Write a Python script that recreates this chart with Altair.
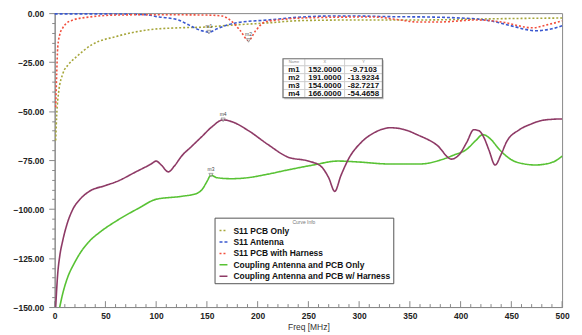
import altair as alt
import pandas as pd

# ---------------- data ----------------
series_names = ["S11 PCB Only", "S11 Antenna", "S11 PCB with Harness",
                "Coupling Antenna and PCB Only", "Coupling Antenna and PCB w/ Harness"]
series_colors = ["#a6a63a", "#3a58d0", "#f2503e", "#58c234", "#8e3a66"]

pcb_x = [1, 2, 4, 8, 14, 21, 37, 60, 93, 122, 145, 178, 210, 243, 300, 360, 420, 460, 500]
pcb_y = [-65, -52, -40, -31, -26, -22.5, -16, -12, -8.5, -7.5, -7.2, -6, -5, -3.8, -3.5, -3.5, -3, -2.7, -2.5]

ant_x = [0, 50, 90, 103, 112, 122, 132, 145, 152, 160, 178, 210, 243, 270, 300, 330, 370, 400, 416, 430, 450, 474, 490, 500]
ant_y = [-0.4, -0.4, -0.8, -2, -2.5, -3.5, -6, -9, -9.71, -8, -5, -3.5, -2, -1.5, -1.5, -1.8, -2, -2.5, -3, -4, -6.5, -9, -8, -6.5]

har_x = [1, 2, 3, 5, 8, 12, 18, 34, 60, 100, 150, 165, 175, 183, 191, 198, 207, 220, 243, 300, 315, 340, 357, 380, 416, 440, 471, 485, 500]
har_y = [-48, -31, -17.5, -11, -7.5, -5, -3.5, -2, -1, -0.8, -1, -1.5, -4.5, -9, -13.92, -9, -4.5, -3.5, -2.5, -2, -2, -3.5, -4.5, -4.5, -3.5, -4.5, -7.5, -6, -4]

cpl_x = [5, 8, 12, 20, 27, 35, 44, 61, 83, 100, 125, 140, 146, 150, 154, 160, 174, 190, 207, 230, 255, 279, 300, 330, 360, 380, 393, 406, 415, 422, 430, 438, 455, 474, 491, 500]
cpl_y = [-150, -143, -136, -127, -121, -116, -112, -106, -99.5, -95, -93.5, -92, -89.5, -86, -82.72, -84, -84.5, -84, -82.5, -80, -77.5, -75.5, -76, -77, -77, -75, -72.5, -69.5, -65, -62, -64.5, -69.5, -76, -77.5, -76, -73]

har_cpl_x = [1, 3, 5, 8, 12, 18, 25, 34, 50, 61, 80, 95, 100, 105, 112, 118, 125, 135, 145, 155, 166, 175, 191, 210, 230, 250, 262, 270, 276, 282, 290, 302, 315, 331, 345, 357, 377, 391, 399, 406, 413, 418, 423, 428, 434, 440, 445, 458, 470, 478, 490, 500]
har_cpl_y = [-150, -133, -124, -116, -108, -100, -95, -91, -88, -86, -81, -77, -75.5, -77.5, -81, -78, -73, -68, -63, -58, -54.47, -55.5, -60, -67, -73.5, -75.5, -78, -84, -91, -83, -74, -66, -61, -58.5, -59.5, -62, -67.5, -74.5, -72, -66, -59.5, -60, -63.5, -70, -77.5, -72, -66, -59.5, -56.5, -55, -54.2, -54]

marker_names = ["m1", "m2", "m3", "m4"]
marker_x = [152.0, 191.0, 154.0, 166.0]
marker_y = [-9.7103, -13.9234, -82.7217, -54.4658]
marker_x_txt = ["152.0000", "191.0000", "154.0000", "166.0000"]
marker_y_txt = ["-9.7103", "-13.9234", "-82.7217", "-54.4658"]

# table frame (data units)
table_cols = [225, 246.6, 285.7, 323]
table_rows = [-23.3, -26.9, -30.9, -35.0, -39.0, -43.1]

x_ticks = list(range(0, 501, 10))

# ---------------- build tables ----------------
rows = []
for name, xs, ys in [(series_names[0], pcb_x, pcb_y), (series_names[1], ant_x, ant_y),
                     (series_names[2], har_x, har_y), (series_names[3], cpl_x, cpl_y),
                     (series_names[4], har_cpl_x, har_cpl_y)]:
    for i, (a, b) in enumerate(zip(xs, ys)):
        rows.append({"series": name, "x": a, "y": b, "i": i})
df = pd.DataFrame(rows)

markers = pd.DataFrame({"name": marker_names, "x": marker_x, "y": marker_y})

cells = []
header = ["Name", "X", "Y"]
for c in range(3):
    cells.append({"x": table_cols[c], "x2": table_cols[c + 1], "y": table_rows[0], "y2": table_rows[1],
                  "t": header[c], "h": 1, "xm": (table_cols[c] + table_cols[c + 1]) / 2,
                  "ym": (table_rows[0] + table_rows[1]) / 2})
for r in range(4):
    vals = [marker_names[r], marker_x_txt[r], marker_y_txt[r]]
    for c in range(3):
        cells.append({"x": table_cols[c], "x2": table_cols[c + 1], "y": table_rows[r + 1], "y2": table_rows[r + 2],
                      "t": vals[c], "h": 0, "xm": (table_cols[c] + table_cols[c + 1]) / 2,
                      "ym": (table_rows[r + 1] + table_rows[r + 2]) / 2})
cells = pd.DataFrame(cells)
frame = pd.DataFrame({"x": [table_cols[0]], "x2": [table_cols[-1]], "y": [table_rows[0]], "y2": [table_rows[-1]]})
shadow_df = pd.DataFrame({"x": [table_cols[0] + 1.2], "x2": [table_cols[-1] + 1.2],
                          "y": [table_rows[0] - 0.8], "y2": [table_rows[-1] - 0.8]})

ticks = pd.DataFrame({"x": x_ticks, "y": [-150] * len(x_ticks),
                      "y2": [-147 if v % 50 == 0 else -148.5 for v in x_ticks]})

# ---------------- chart ----------------
xscale = alt.Scale(domain=[0, 500], nice=False, zero=False)
yscale = alt.Scale(domain=[-150, 0], nice=False, zero=False)

legend = alt.Legend(title="Curve Info", orient="none", legendX=161, legendY=206,
                    fillColor="white", strokeColor="#555", padding=2,
                    symbolType="stroke", symbolSize=64, symbolStrokeWidth=1.5,
                    labelFontSize=8.5, labelFontWeight="bold", labelColor="#111",
                    labelFont="Liberation Sans", labelOffset=5, symbolOffset=2,
                    titleFontSize=5, titleColor="#777", titleAnchor="middle",
                    titleFontWeight="normal", titleFont="Liberation Sans", titlePadding=1,
                    rowPadding=1.5, labelLimit=300)

xaxis = alt.Axis(values=list(range(0, 501, 50)), ticks=False, labelPadding=5, labelFlush=False,
                 labelOverlap=False,
                 title="Freq [MHz]", titleFontSize=8.5, titleFontWeight="normal", titlePadding=2,
                 titleColor="#333", format="d", labelFontSize=8.5, labelFontWeight="bold", grid=False)
yaxis = alt.Axis(values=list(range(-150, 1, 5)),
                 labelExpr="datum.value % 25 == 0 ? format(datum.value, '.2f') : ''",
                 tickSize={"condition": {"test": "datum.value % 25 == 0", "value": 6}, "value": 3},
                 labelOverlap=False, labelFlush=False,
                 labelPadding=5, grid=False, title=None, labelFontSize=8.5, labelFontWeight="bold")


def X(f):
    return alt.X(f, axis=xaxis, scale=xscale)


def Y(f):
    return alt.Y(f, axis=yaxis, scale=yscale)


lines = alt.Chart(df).mark_line(strokeWidth=1.6, interpolate="monotone").encode(
    x=X("x:Q"),
    y=Y("y:Q"),
    color=alt.Color("series:N", scale=alt.Scale(domain=series_names, range=series_colors), legend=legend),
    strokeDash=alt.StrokeDash("series:N", scale=alt.Scale(domain=series_names,
                              range=[[2, 2], [3, 2], [2, 2], [1, 0], [1, 0]]), legend=legend),
    order="i:Q",
)

tick_layer = alt.Chart(ticks).mark_rule(color="#888", strokeWidth=1).encode(
    x=X("x:Q"), y=Y("y:Q"), y2="y2:Q")

mk = alt.Chart(markers).mark_point(shape="triangle-down", size=18, filled=True,
                                   fill="#eeeeee", stroke="#666", strokeWidth=0.8).encode(
    x=X("x:Q"), y=Y("y:Q"))
mk_text = alt.Chart(markers).mark_text(fontSize=5, dy=-6, color="#444", font="Liberation Sans").encode(
    x=X("x:Q"), y=Y("y:Q"), text="name:N")

shadow = alt.Chart(shadow_df).mark_rect(fill="#999", opacity=0.6).encode(
    x=X("x:Q"), x2="x2:Q", y=Y("y:Q"), y2="y2:Q")
cell_rects = alt.Chart(cells).mark_rect(fill="white", stroke="#c8c8c8", strokeWidth=0.7).encode(
    x=X("x:Q"), x2="x2:Q", y=Y("y:Q"), y2="y2:Q")
frame_rect = alt.Chart(frame).mark_rect(fill=None, stroke="#777", strokeWidth=1.2).encode(
    x=X("x:Q"), x2="x2:Q", y=Y("y:Q"), y2="y2:Q")
cell_text = alt.Chart(cells).mark_text(font="Liberation Sans", fontWeight="bold", fontSize=8, color="#111").encode(
    x=X("xm:Q"), y=Y("ym:Q"), text="t:N").transform_filter("datum.h == 0")
head_text = alt.Chart(cells).mark_text(font="Liberation Sans", fontSize=4, color="#888").encode(
    x=X("xm:Q"), y=Y("ym:Q"), text="t:N").transform_filter("datum.h == 1")

chart = alt.layer(lines, tick_layer, mk, mk_text, shadow, cell_rects, frame_rect, cell_text, head_text).properties(
    width=511, height=296,
    autosize=alt.AutoSizeParams(type="none"),
    padding={"left": 47, "top": 4, "right": 12, "bottom": 27},
    background="white",
).configure_view(stroke="#888", strokeWidth=1).configure_axis(
    domainColor="#888", tickColor="#888", labelColor="#222", labelFont="Liberation Sans",
    titleFont="Liberation Sans")

chart.save("out.html", embed_options={"renderer": "svg", "actions": False})
